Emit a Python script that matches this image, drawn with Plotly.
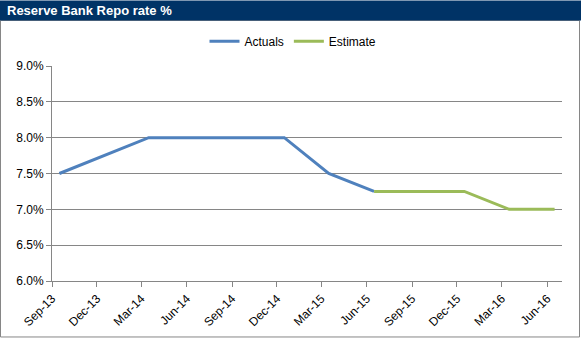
import plotly.graph_objects as go

# Data
actual_dates = ["2013-09-16", "2013-12-16", "2014-03-16", "2014-06-16", "2014-09-16",
                "2014-12-16", "2015-03-16", "2015-06-16"]
actual_values = [0.075, 0.0775, 0.08, 0.08, 0.08, 0.08, 0.075, 0.0725]
estimate_dates = ["2015-06-16", "2015-09-16", "2015-12-16", "2016-03-16", "2016-06-16"]
estimate_values = [0.0725, 0.0725, 0.0725, 0.07, 0.07]
title_text = "Reserve Bank Repo rate %"

W, H = 581, 341
L, R, T, B = 52, 562, 66, 283  # plot area pixel bounds
pw, ph = R - L, B - T

def px_x(x):
    return (x - L) / pw

def px_y(y):
    return (B - y) / ph

font_family = "Liberation Sans, Arial, sans-serif"
grey = "#868686"

fig = go.Figure()
fig.add_trace(go.Scatter(x=actual_dates, y=actual_values, mode="lines", name="Actuals",
                         line=dict(color="#4F81BD", width=3)))
fig.add_trace(go.Scatter(x=estimate_dates, y=estimate_values, mode="lines", name="Estimate",
                         line=dict(color="#9BBB59", width=3)))

fig.update_layout(
    width=W, height=H,
    margin=dict(l=L, r=W - R, t=T, b=H - B),
    paper_bgcolor="white", plot_bgcolor="white",
    font=dict(family=font_family, size=12, color="#000000"),
    showlegend=True,
    legend=dict(orientation="h", x=px_x(293), xanchor="center", y=px_y(41), yanchor="middle",
                font=dict(size=12), itemwidth=30, tracegroupgap=0),
    shapes=[
        dict(type="rect", xref="paper", yref="paper",
             x0=px_x(0.5), x1=px_x(579.5), y0=px_y(339.5), y1=px_y(20),
             line=dict(color=grey, width=1), fillcolor="rgba(0,0,0,0)", layer="below"),
        dict(type="rect", xref="paper", yref="paper",
             x0=px_x(0), x1=px_x(581), y0=px_y(20), y1=px_y(0),
             line=dict(width=0), fillcolor="#003366", layer="above"),
    ],
    annotations=[
        dict(text="<b>" + title_text + "</b>", xref="paper", yref="paper",
             x=px_x(5), y=px_y(10), xanchor="left", yanchor="middle", showarrow=False,
             font=dict(family=font_family, size=13, color="white")),
    ],
)

fig.update_xaxes(
    type="date",
    range=["2013-09-01", "2016-07-01"],
    tick0="2013-09-01", dtick="M3", tickformat="%b-%y",
    tickangle=-45,
    showgrid=False, zeroline=False,
    showline=True, linecolor=grey, linewidth=1,
    ticks="outside", ticklen=5, tickcolor=grey,
    tickfont=dict(size=12),
)
fig.update_yaxes(
    range=[0.06, 0.09], dtick=0.005, tickformat=".1%",
    showgrid=True, gridcolor=grey, gridwidth=1, zeroline=False,
    showline=True, linecolor=grey, linewidth=1,
    ticks="outside", ticklen=5, tickcolor=grey,
    tickfont=dict(size=12),
)

fig.write_html("out.html")
